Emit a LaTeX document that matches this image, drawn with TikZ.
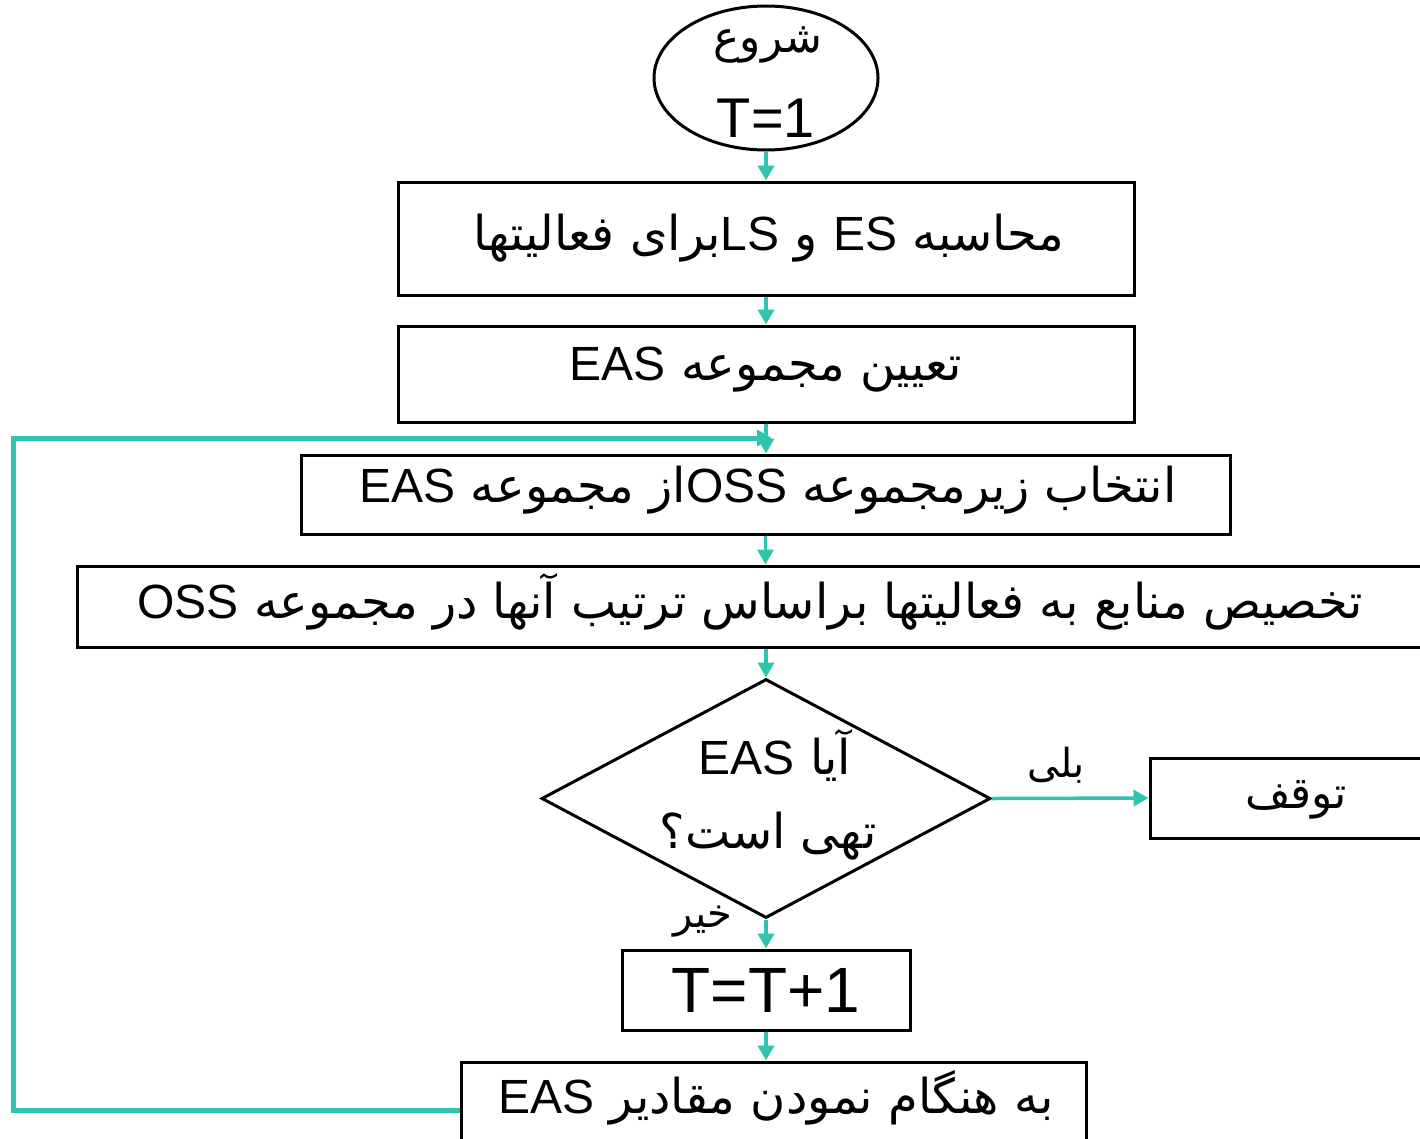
\documentclass[tikz,border=0pt]{standalone}
\usepackage{fontspec}
\setmainfont{Liberation Sans}
\newfontfamily\latinfont{Liberation Sans}
\newfontfamily\arabicfont[Script=Arabic]{DejaVu Sans}
\TeXXeTstate=1
\usetikzlibrary{shapes.geometric,arrows.meta}
\definecolor{tealc}{RGB}{47,196,176}
\newcommand{\fa}[1]{{\arabicfont\beginR #1\endR}}
\newcommand{\la}[1]{{\latinfont #1}}
\tikzset{
  box/.style={draw=black, line width=3pt, inner sep=0pt},
  txt/.style={inner sep=0pt, font=\fontsize{48}{58}\selectfont},
  lbl/.style={inner sep=0pt, font=\fontsize{40}{46}\selectfont},
  arr/.style={draw=tealc, line width=3.5pt, -{Triangle[length=15pt,width=16pt]}},
  looparr/.style={draw=tealc, line width=5pt, -{Triangle[length=15pt,width=16pt]}}
}
\begin{document}
\begin{tikzpicture}[x=1pt,y=-1pt]
\useasboundingbox (0,0) rectangle (1420,1138);
\clip (0,0) rectangle (1420,1138);
% start
\node[draw, ellipse, line width=3pt, minimum width=224pt, minimum height=144pt, inner sep=0pt] (start) at (766,78) {};
\node[txt, font=\fontsize{44}{50}\selectfont] (st1) at (768,45) {\fa{شروع}};
\node[txt, font=\fontsize{56}{60}\selectfont] (st2) at (766,118) {T=1};
% boxes
\node[box, minimum width=736pt, minimum height=113pt] (b1) at (766,238.5) {};
\node[txt] (t1) at (769,238) {\fa{محاسبه \la{ES} و \la{LS}برای فعالیتها}};
\node[box, minimum width=736pt, minimum height=96pt] (b2) at (766,374) {};
\node[txt] (t2) at (766,370) {\fa{تعیین مجموعه \la{EAS}}};
\node[box, minimum width=929pt, minimum height=79pt] (b3) at (765.5,494.5) {};
\node[txt] (t3) at (768,490) {\fa{انتخاب زیرمجموعه \la{OSS}از مجموعه \la{EAS}}};
\node[box, minimum width=1363pt, minimum height=81pt] (b4) at (758.5,606.5) {};
\node[txt] (t4) at (750,602) {\fa{تخصیص منابع به فعالیتها براساس ترتیب آنها در مجموعه \la{OSS}}};
% decision
\node[draw, diamond, line width=3pt, minimum width=449pt, minimum height=239pt, inner sep=0pt] (dec) at (766,798.5) {};
\node[txt] (d1) at (775,755) {\fa{آیا \la{EAS}}};
\node[txt] (d2) at (768,836) {\fa{تهی است؟}};
% stop
\node[box, minimum width=290pt, minimum height=80pt] (stop) at (1295,798) {};
\node[txt, font=\fontsize{44}{50}\selectfont] (ts) at (1296,800) {\fa{توقف}};
% T=T+1
\node[box, minimum width=288pt, minimum height=80pt] (tb) at (766,990) {};
\node[txt, font=\fontsize{64}{70}\selectfont] (tt) at (766,990) {T=T+1};
% update
\node[box, minimum width=625pt, minimum height=90pt] (last) at (773.5,1107) {};
\node[txt] (tl) at (776,1098) {\fa{به هنگام نمودن مقادیر \la{EAS}}};
% labels
\node[lbl] (yes) at (1056,765) {\fa{بلی}};
\node[lbl] (no) at (703,922) {\fa{خیر}};
% arrows
\draw[arr] (start.south) -- (b1.north);
\draw[arr] (b1.south) -- (b2.north);
\draw[arr] (b2.south) -- (b2.south |- b3.north);
\draw[arr] (b3.south) -- (b3.south |- b4.north);
\draw[arr] (dec.north |- b4.south) -- (dec.north);
\draw[arr] (dec.south) -- (tb.north);
\draw[arr] (tb.south) -- (tb.south |- last.north);
\draw[arr] (dec.east) -- (stop.west);
\coordinate (lp1) at (13,1110);
\coordinate (lp2) at (13,438);
\coordinate (lp3) at (772,438);
\draw[looparr] (last.west |- lp1) -- (lp1) -- (lp2) -- (lp3);
\end{tikzpicture}
\end{document}
